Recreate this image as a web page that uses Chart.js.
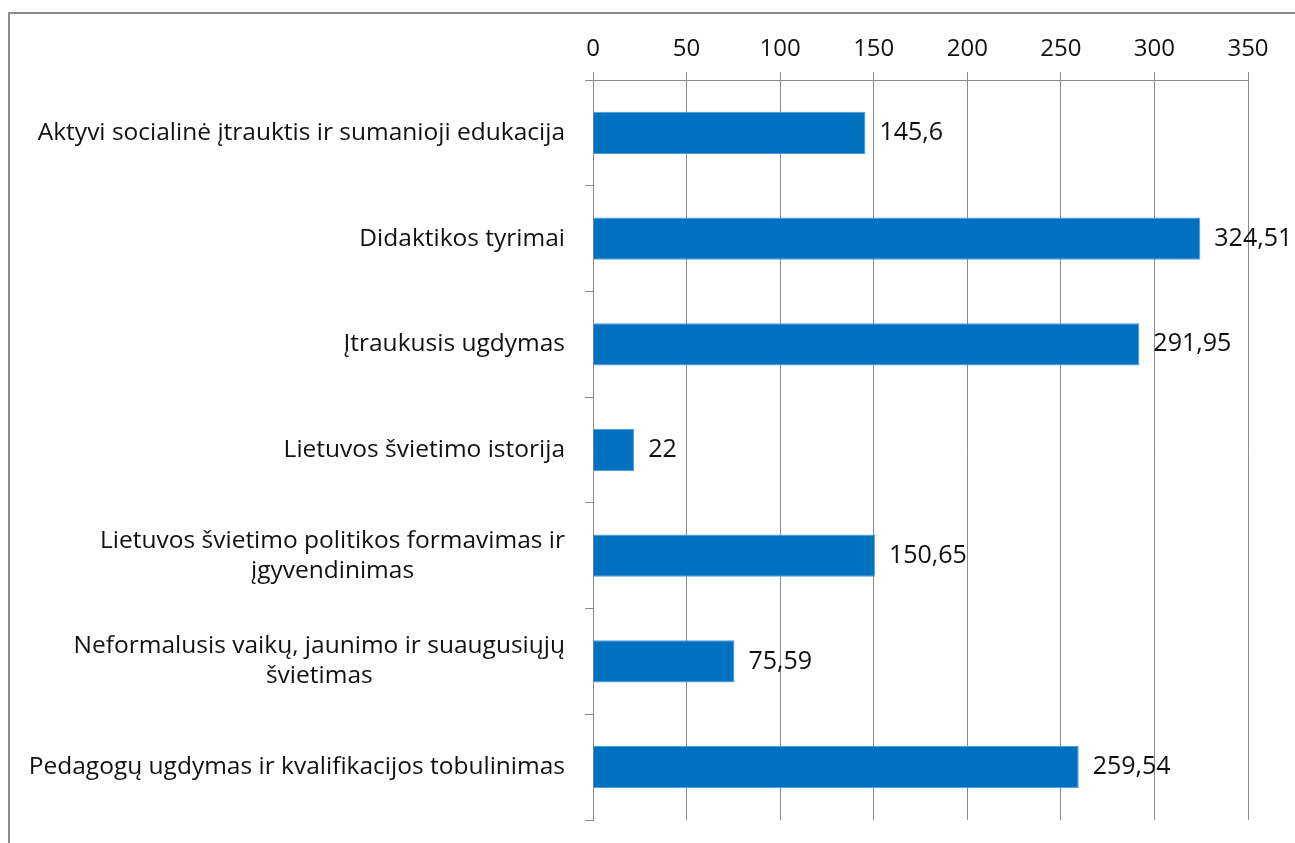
<!DOCTYPE html>
<html lang="lt">
<head>
    <meta charset="UTF-8">
    <title>Lėšos pagal kryptis</title>
    <style>
        body {
            margin: 0;
            padding: 0;
            background: #fff;
            overflow: hidden;
        }
        .frame {
            position: absolute;
            left: 8px;
            top: 12px;
            width: 1400px;
            height: 900px;
            border-top: 2px solid #8c8c8c;
            border-left: 2px solid #8c8c8c;
        }
        .wrap {
            position: absolute;
            left: 0;
            top: 0;
            width: 1295px;
            height: 843px;
        }
    </style>
</head>
<body>
    <div class="frame"></div>
    <div class="wrap">
        <canvas id="chart"></canvas>
    </div>

    <script src="https://cdn.jsdelivr.net/npm/chart.js"></script>
    <script>
        const categories = [
            ['Aktyvi socialinė įtrauktis ir sumanioji edukacija'],
            ['Didaktikos tyrimai'],
            ['Įtraukusis ugdymas '],
            ['Lietuvos švietimo istorija'],
            ['Lietuvos švietimo politikos formavimas ir', 'įgyvendinimas'],
            ['Neformalusis vaikų, jaunimo ir suaugusiųjų', 'švietimas'],
            ['Pedagogų ugdymas ir kvalifikacijos tobulinimas']
        ];
        const values = [145.6, 324.51, 291.95, 22, 150.65, 75.59, 259.54];
        const valueLabels = ['145,6', '324,51', '291,95', '22', '150,65', '75,59', '259,54'];

        const FONT = '"Open Sans", sans-serif';
        const GRID = '#8a8a8a';

        // kairės pusės pavadinimai: eilutės centruojamos, blokas lygiuojamas dešinėje
        const categoryLabels = {
            id: 'categoryLabels',
            afterDraw(chart) {
                const ctx = chart.ctx;
                const y = chart.scales.y;
                const right = chart.chartArea.left - 28;
                const lineH = 30;
                ctx.save();
                ctx.font = '24.5px ' + FONT;
                ctx.fillStyle = '#111';
                ctx.textBaseline = 'middle';
                ctx.textAlign = 'center';
                categories.forEach((lines, i) => {
                    const cy = y.getPixelForValue(i);
                    const w = Math.max(...lines.map(l => ctx.measureText(l.trimEnd()).width));
                    const cx = right - w / 2;
                    const y0 = cy - (lines.length - 1) * lineH / 2;
                    lines.forEach((l, k) => ctx.fillText(l.trimEnd(), cx, y0 + k * lineH));
                });
                ctx.restore();
            }
        };

        // reikšmės šalia stulpelių
        const valueText = {
            id: 'valueText',
            afterDatasetsDraw(chart) {
                const ctx = chart.ctx;
                const meta = chart.getDatasetMeta(0);
                ctx.save();
                ctx.font = '25px ' + FONT;
                ctx.fillStyle = '#111';
                ctx.textBaseline = 'middle';
                ctx.textAlign = 'left';
                meta.data.forEach((bar, i) => {
                    ctx.fillText(valueLabels[i], bar.x + 14, bar.y);
                });
                ctx.restore();
            }
        };

        new Chart(document.getElementById('chart'), {
            type: 'bar',
            data: {
                labels: categories,
                datasets: [{
                    data: values,
                    backgroundColor: '#0070C0',
                    borderColor: '#4a9ad6',
                    borderWidth: 1,
                    barPercentage: 0.4,
                    categoryPercentage: 1
                }]
            },
            options: {
                indexAxis: 'y',
                responsive: true,
                maintainAspectRatio: false,
                animation: false,
                layout: { padding: { left: 0, top: 0, right: 47, bottom: 23 } },
                plugins: {
                    legend: { display: false },
                    tooltip: { enabled: false }
                },
                scales: {
                    x: {
                        position: 'top',
                        min: 0,
                        max: 350,
                        ticks: {
                            stepSize: 50,
                            padding: 8,
                            color: '#111',
                            font: { family: FONT, size: 24 }
                        },
                        grid: { color: GRID, tickLength: 8 },
                        border: { color: GRID },
                        afterFit(s) { s.height = 80; }
                    },
                    y: {
                        ticks: { display: false },
                        grid: { color: GRID, tickLength: 8, drawOnChartArea: false },
                        border: { color: GRID },
                        afterFit(s) { s.width = 593; }
                    }
                }
            },
            plugins: [categoryLabels, valueText]
        });
    </script>
</body>
</html>
